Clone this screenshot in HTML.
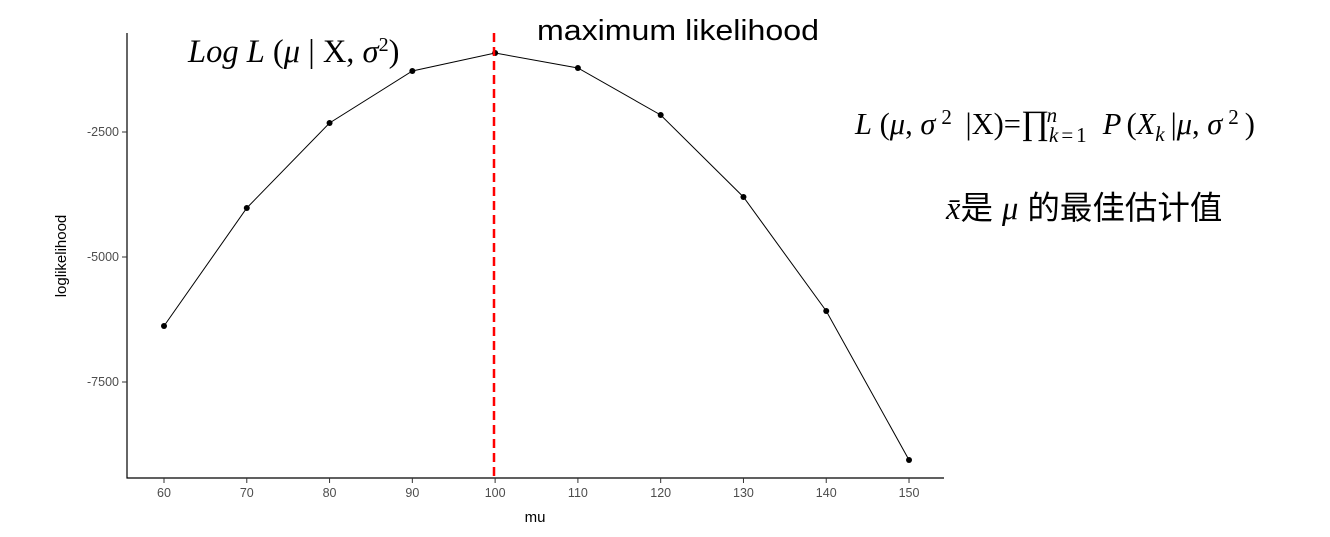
<!DOCTYPE html>
<html><head><meta charset="utf-8"><style>
body{margin:0;background:#fff;}
svg text{font-family:"Liberation Sans","Noto Sans CJK SC",sans-serif;}
.serif{font-family:"Liberation Serif","Noto Serif CJK SC",serif;}
</style></head><body>
<svg id="chart" width="1330" height="532" viewBox="0 0 1330 532" xmlns="http://www.w3.org/2000/svg">
<g id="axes"></g>
<g id="marks"></g>
<line x1="494" y1="33" x2="494" y2="478" stroke="#ff0000" stroke-width="2.5" stroke-dasharray="9,5"/>
<text x="537" y="40" font-size="29" textLength="282" lengthAdjust="spacingAndGlyphs" fill="#000">maximum likelihood</text>
<text class="serif" x="188" y="62" font-size="32.5" fill="#000"><tspan font-style="italic">Log L</tspan> (<tspan font-style="italic">μ</tspan> | X, <tspan font-style="italic">σ</tspan><tspan dy="-11" font-size="20">2</tspan><tspan dy="11">)</tspan></text>
<text class="serif" x="855" y="134" font-size="30.5" fill="#000"><tspan font-style="italic">L</tspan> (<tspan font-style="italic">μ</tspan>, <tspan font-style="italic">σ</tspan><tspan dy="-10" font-size="21" dx="6">2</tspan><tspan dy="10" dx="6"> |X)=</tspan><tspan font-size="34">∏</tspan><tspan dy="8" font-size="21" font-style="italic">k</tspan><tspan font-size="21" dx="3">=</tspan><tspan font-size="21" dx="3">1</tspan><tspan dy="-20" dx="-40" font-size="21" font-style="italic">n</tspan><tspan dy="12" dx="38" font-style="italic"> P</tspan><tspan dx="5">(</tspan><tspan font-style="italic">X</tspan><tspan dy="7" font-size="21" font-style="italic">k</tspan><tspan dy="-7" dx="6">|</tspan><tspan font-style="italic">μ</tspan>, <tspan font-style="italic">σ</tspan><tspan dy="-10" font-size="21" dx="6">2</tspan><tspan dy="10" dx="6">)</tspan></text>
<text x="946" y="219" font-size="32.5" fill="#000"><tspan class="serif" font-style="italic">x̄</tspan>是 <tspan class="serif" font-style="italic">μ</tspan> 的最佳估计值</text>
<text x="535" y="522" font-size="15" text-anchor="middle" fill="#000">mu</text>
<text transform="translate(66,256) rotate(-90)" font-size="15" text-anchor="middle" fill="#000">loglikelihood</text>
</svg>
<script>
const categories=[60,70,80,90,100,110,120,130,140,150];
const loglik=[-6380,-4020,-2320,-1280,-920,-1220,-2160,-3800,-6080,-9060];
const yTicks=[-2500,-5000,-7500];
const NS='http://www.w3.org/2000/svg';
function xs(v){return 164+(v-60)*82.78/10;}
function ys(v){return 132+(-2500-v)*0.05;}
function mk(tag,attrs,parent){const e=document.createElementNS(NS,tag);for(const k in attrs)e.setAttribute(k,attrs[k]);parent.appendChild(e);return e;}
const axes=document.getElementById('axes'),marks=document.getElementById('marks');
let a=mk('line',{x1:127,y1:33,x2:127,y2:478.5,stroke:'#000','stroke-width':1.2},axes);


a=mk('line',{x1:126.5,y1:478,x2:944,y2:478,stroke:'#000','stroke-width':1.2},axes);


yTicks.forEach(t=>{
 const l=mk('line',{x1:122,x2:127,y1:ys(t),y2:ys(t),stroke:'#333'},axes);
 
 
 const tx=mk('text',{x:119,y:ys(t)+4,'text-anchor':'end','font-size':12.5,fill:'#4d4d4d'},axes);
 tx.textContent=t;
 
 
});
categories.forEach(c=>{
 const l=mk('line',{x1:xs(c),x2:xs(c),y1:478,y2:483,stroke:'#333'},axes);
 
 
 const tx=mk('text',{x:xs(c),y:497,'text-anchor':'middle','font-size':12.5,fill:'#4d4d4d'},axes);
 tx.textContent=c;
 
 
});
const p=mk('polyline',{points:categories.map((c,i)=>xs(c)+','+ys(loglik[i])).join(' '),fill:'none',stroke:'#000','stroke-width':1},marks);


categories.forEach((c,i)=>{
 const d=mk('circle',{cx:xs(c),cy:ys(loglik[i]),r:3,fill:'#000'},marks);
 
 
});
</script>
</body></html>
